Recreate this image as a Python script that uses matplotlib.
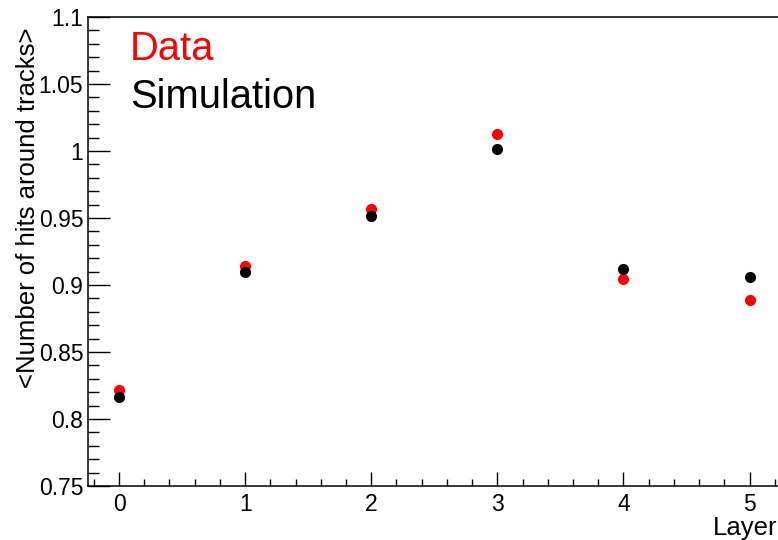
import matplotlib
matplotlib.use("Agg")
import matplotlib.pyplot as plt
from matplotlib.ticker import MultipleLocator

# mean number of hits around tracks per layer
layers = [0, 1, 2, 3, 4, 5]
data_hits = [0.8218, 0.9143, 0.9567, 1.0130, 0.9043, 0.8886]
sim_hits = [0.8162, 0.9097, 0.9517, 1.0018, 0.9117, 0.9062]

plt.rcParams["font.family"] = ["Liberation Sans", "DejaVu Sans"]

W, H = 778, 540
fig = plt.figure(figsize=(W / 100, H / 100), dpi=100)

# frame: left 87.5px, bottom 486px, top 17px, right beyond the image edge
ax = fig.add_axes([87.5 / W, 1 - 486 / H, 693.6 / W, (486 - 17) / H])

ax.plot(layers, data_hits, "o", color="red", markersize=7, zorder=3)
ax.plot(layers, sim_hits, "o", color="black", markersize=7, zorder=3)

ax.set_xlim(-0.25, 5.25)
ax.set_ylim(0.75, 1.1)

ax.xaxis.set_major_locator(MultipleLocator(1))
ax.xaxis.set_minor_locator(MultipleLocator(0.2))
ax.yaxis.set_minor_locator(MultipleLocator(0.01))
ax.set_yticks([0.75, 0.8, 0.85, 0.9, 0.95, 1.0, 1.05, 1.1])
ax.set_yticklabels(["0.75", "0.8", "0.85", "0.9", "0.95", "1", "1.05", "1.1"])

ax.tick_params(axis="y", which="major", direction="in", length=16, width=1, pad=3, labelsize=16.5)
ax.tick_params(axis="y", which="minor", direction="in", length=8, width=1)
ax.tick_params(axis="x", which="major", direction="in", length=10, width=1, pad=5, labelsize=16.5)
ax.tick_params(axis="x", which="minor", direction="in", length=5, width=1)

for side in ["left", "bottom", "top"]:
    ax.spines[side].set_linewidth(1.1)
ax.spines["right"].set_visible(False)

fig.text(28 / W, 1 - 28 / H, "<Number of hits around tracks>", rotation=90,
         ha="center", va="top", fontsize=18.5)
fig.text(777 / W, 1 - 535 / H, "Layer", ha="right", va="baseline", fontsize=18.5)

fig.text(130 / W, 1 - 60 / H, "Data", color="red", fontsize=28.7, va="baseline")
fig.text(130 / W, 1 - 108 / H, "Simulation", color="black", fontsize=28.7, va="baseline")

fig.savefig("out.png", dpi=100)
